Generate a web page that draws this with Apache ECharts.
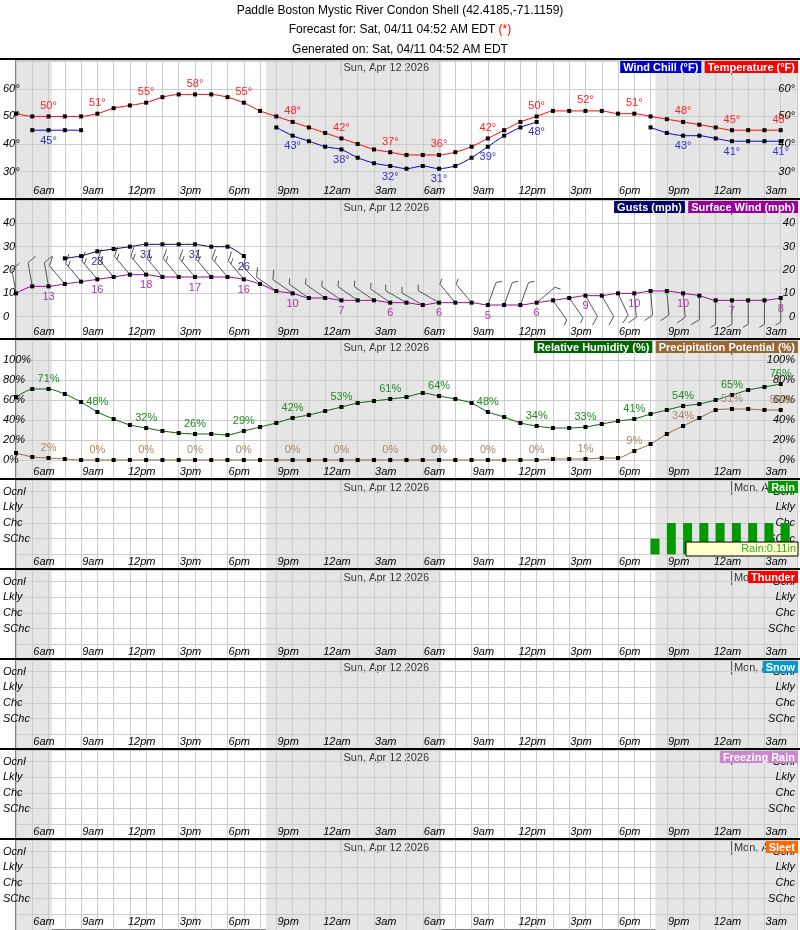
<!DOCTYPE html>
<html>
<head>
<meta charset="utf-8">
<script src="https://cdn.jsdelivr.net/npm/echarts@6/dist/echarts.min.js"></script>
<style>html,body{margin:0;padding:0;background:#fff}#chart{width:800px;height:930px}</style>
</head>
<body>
<div id="chart"></div>
<script>
// hourly, index 0 = 4am Sat Apr 11 ... 48 = 4am Mon Apr 13
var hours = ['4am','5am','6am','7am','8am','9am','10am','11am','12pm','1pm','2pm','3pm','4pm','5pm','6pm','7pm','8pm','9pm','10pm','11pm',
  '12am','1am','2am','3am','4am','5am','6am','7am','8am','9am','10am','11am','12pm','1pm','2pm','3pm','4pm','5pm','6pm','7pm','8pm','9pm','10pm','11pm',
  '12am','1am','2am','3am','4am'];
var temperature = [51,50,50,50,50,51,53,54,55,57,58,58,58,57,55,52,50,48,46,44,42,40,38,37,
  36,36,36,37,39,42,45,48,50,52,52,52,52,51,51,50,49,48,47,46,45,45,45,45];
var windChill = [null,45,45,45,45,null,null,null,null,null,null,null,null,null,null,null,46,43,41,39,38,35,33,32,
  31,32,31,32,35,39,43,46,48,null,null,null,null,null,null,46,44,43,43,42,41,41,41,41];
var gusts = [null,null,null,25,26,28,29,30,31,31,31,31,30,30,26,null,null,null,null,null,null,null,null,null,
  null,null,null,null,null,null,null,null,null,null,null,null,null,null,null,null,null,null,null,null,null,null,null,null];
var wind = [10,13,13,14,15,16,17,18,18,17,17,17,17,17,16,14,11,10,8,8,7,7,7,6,
  6,5,6,6,6,5,5,5,6,7,8,9,9,10,10,11,11,10,9,7,7,7,7,8];
var windDir = [350,350,350,320,320,320,320,320,320,320,320,320,320,320,320,315,305,305,305,305,305,305,305,305,
  300,300,300,320,320,20,20,20,50,145,145,150,150,155,175,175,175,175,180,180,180,180,180,180];
var humidity = [63,71,71,66,58,48,41,35,32,29,27,26,26,25,29,33,37,42,45,49,53,57,59,61,
  63,67,64,61,57,48,43,37,34,32,32,33,36,39,41,46,50,54,56,60,65,70,73,76];
var precipPot = [7,3,2,1,0,0,0,0,0,0,0,0,0,0,0,0,0,0,0,0,0,0,0,0,
  0,0,0,0,0,0,0,0,0,1,1,1,2,2,9,16,26,34,42,50,51,51,50,50];
var rainLevel = [0,0,0,0,0,0,0,0,0,0,0,0,0,0,0,0,0,0,0,0,0,0,0,0,
  0,0,0,0,0,0,0,0,0,0,0,0,0,0,0,1,2,2,2,2,2,2,2,2];
var levelNames = ['', 'SChc', 'Chc', 'Lkly', 'Ocnl'];
var dayNames = ['Sun, Apr 12 2026', 'Mon, Apr 13 2026'];
var dayStarts = [20, 44];
var nights = [[0, 2.2], [15.37, 26.15], [39.3, 48]];

var chart = echarts.init(document.getElementById('chart'));
var FONT = 'Liberation Sans';
var panelTops = [60, 200, 340, 480, 570, 660, 750, 840];
var panelH = [139, 140, 140, 90, 90, 90, 90, 90];
var yRanges = [[20, 70.5, 10], [-10, 50, 10], [-20, 120, 20], [-1, 4.75, 1], [-1, 4.75, 1], [-1, 4.75, 1], [-1, 4.75, 1], [-1, 4.75, 1]];

function fmtY(i, v) {
	if (i === 0) return (v >= 30 && v <= 60) ? v + '°' : '';
	if (i === 1) return (v >= 0 && v <= 40) ? String(v) : '';
	if (i === 2) return (v >= 0 && v <= 100) ? v + '%' : '';
	return levelNames[v] || '';
}

var grids = [], xAxes = [], yAxes = [], series = [];
panelTops.forEach(function (top, i) {
	grids.push({left: 15, right: 2, top: top, height: panelH[i], show: true, borderColor: '#000', borderWidth: 1, backgroundColor: '#fff'});
	xAxes.push({
		type: 'value', gridIndex: i, min: 0, max: 48, interval: 1, z: 3,
		axisLine: {show: false}, axisTick: {show: false},
		splitLine: {show: true, lineStyle: {color: '#ccc'}},
		axisLabel: {
			inside: true, margin: 3, verticalAlign: 'bottom', padding: [0, 9, 0, 0],
			fontFamily: FONT, fontStyle: 'italic', fontSize: 11, color: '#000',
			formatter: function (v) { return (v % 3 === 2) ? hours[v] : ''; }
		}
	});
	[false, true].forEach(function (right) {
		yAxes.push({
			type: 'value', gridIndex: i, position: right ? 'right' : 'left', z: 3,
			min: yRanges[i][0], max: yRanges[i][1], interval: yRanges[i][2],
			axisLine: {show: false}, axisTick: {show: false},
			splitLine: {show: !right, lineStyle: {color: '#ccc'}},
			axisLabel: {
				inside: true, margin: right ? 2 : -13,
				fontFamily: FONT, fontStyle: 'italic', fontSize: 11, color: '#000',
				formatter: function (v) { return fmtY(i, v); }
			}
		});
	});
	// night shading + day marks
	series.push({
		type: 'custom', xAxisIndex: i, yAxisIndex: 2 * i, silent: true, clip: true, z: 1,
		data: dayStarts.map(function (h, k) { return [h, k]; }),
		renderItem: function (params, api) {
			var p = api.coord([api.value(0), 0]);
			var cs = params.coordSys;
			return {type: 'group', children: [
				{type: 'line', shape: {x1: p[0], y1: cs.y + 1, x2: p[0], y2: cs.y + 15}, style: {stroke: '#000', lineWidth: 1}},
				{type: 'text', x: p[0] + 2, y: cs.y + 2, style: {text: dayNames[api.value(1)], fill: '#333', font: '11px ' + FONT}}
			]};
		},
		markArea: {silent: true, itemStyle: {color: '#e5e5e5'},
			data: nights.map(function (n) { return [{xAxis: n[0]}, {xAxis: n[1]}]; })}
	});
});

function pts(arr) {
	return arr.map(function (v, h) {
		return {value: [h, v == null ? '-' : v], label: {show: v != null && h % 3 === 2}};
	});
}
function lineSeries(name, arr, gi, color, labelColor, pos, suffix) {
	return {
		name: name, type: 'line', xAxisIndex: gi, yAxisIndex: 2 * gi, z: 5,
		data: pts(arr), connectNulls: false, smooth: 0.2,
		symbol: 'rect', symbolSize: 4, itemStyle: {color: '#000'},
		lineStyle: {color: color, width: 1},
		label: {position: pos, distance: 3, color: labelColor, fontFamily: FONT, fontSize: 11,
			formatter: function (p) { return p.value[1] + suffix; }},
		emphasis: {disabled: true}
	};
}
series.push(lineSeries('Temperature', temperature, 0, '#ff0000', '#ff2222', 'top', '°'));
series.push(lineSeries('Wind Chill', windChill, 0, '#0000cc', '#3333cc', 'bottom', '°'));
series.push(lineSeries('Gusts', gusts, 1, '#000066', '#333399', 'bottom', ''));
series.push(lineSeries('Surface Wind', wind, 1, '#990099', '#aa33aa', 'bottom', ''));
series.push(lineSeries('Relative Humidity', humidity, 2, '#006600', '#228822', 'top', '%'));
series.push(lineSeries('Precipitation Potential', precipPot, 2, '#996633', '#aa8866', 'top', '%'));

// wind barbs
series.push({
	type: 'custom', xAxisIndex: 1, yAxisIndex: 2, silent: true, z: 4,
	data: wind.map(function (v, h) { return [h, v, windDir[h]]; }),
	renderItem: function (params, api) {
		var p = api.coord([api.value(0), api.value(1)]);
		var d = api.value(2) * Math.PI / 180;
		var ux = Math.sin(d), uy = -Math.cos(d);
		var nx = -uy, ny = ux;
		var L = 24;
		var ex = p[0] + ux * L, ey = p[1] + uy * L;
		var kt = Math.round(api.value(1) * 0.869 / 5) * 5;
		var children = [{type: 'line', shape: {x1: p[0], y1: p[1], x2: ex, y2: ey}, style: {stroke: '#555', lineWidth: 1}}];
		var pos = 0;
		while (kt > 0) {
			var len = kt >= 10 ? 10 : 6;
			var bx = ex - ux * pos, by = ey - uy * pos;
			children.push({type: 'line', shape: {x1: bx, y1: by, x2: bx + (nx * 0.85 + ux * 0.5) * len, y2: by + (ny * 0.85 + uy * 0.5) * len},
				style: {stroke: '#555', lineWidth: 1}});
			kt -= 10; pos += 4;
		}
		return {type: 'group', children: children};
	}
});

// rain bars
series.push({
	type: 'custom', xAxisIndex: 3, yAxisIndex: 6, silent: true, z: 5,
	data: rainLevel.map(function (v, h) { return [h, v]; }),
	renderItem: function (params, api) {
		if (!api.value(1)) return null;
		var a = api.coord([api.value(0), api.value(1)]);
		var b = api.coord([api.value(0) + 0.55, 0]);
		return {type: 'rect', shape: {x: a[0], y: a[1], width: b[0] - a[0], height: b[1] - a[1]}, style: {fill: '#009900'}};
	}
});

function legendBox(top, items) {
	var rich = {}, parts = [];
	items.forEach(function (it, k) {
		rich['b' + k] = {backgroundColor: it[1], fill: '#fff', fontWeight: 'bold', fontFamily: FONT, fontSize: 11, padding: [1, 3, 0, 3], lineHeight: 12};
		parts.push('{b' + k + '|' + it[0] + '}');
	});
	return {type: 'text', right: 2, top: top, z: 100, style: {text: parts.join(' '), rich: rich}};
}

var graphics = [
	{type: 'text', left: 'center', top: 5, style: {text: 'Paddle Boston Mystic River Condon Shell (42.4185,-71.1159)', font: '12px ' + FONT, fill: '#000'}},
	{type: 'text', left: 'center', top: 24, style: {text: 'Forecast for: Sat, 04/11 04:52 AM EDT {r|(*)}', font: '12px ' + FONT, fill: '#000', rich: {r: {fill: '#ff0000', fontSize: 12, fontFamily: FONT}}}},
	{type: 'text', left: 'center', top: 44, style: {text: 'Generated on: Sat, 04/11 04:52 AM EDT', font: '12px ' + FONT, fill: '#000'}},
	legendBox(61, [['Wind Chill (°F)', '#0000cc'], ['Temperature (°F)', '#ff0000']]),
	legendBox(201, [['Gusts (mph)', '#000066'], ['Surface Wind (mph)', '#990099']]),
	legendBox(341, [['Relative Humidity (%)', '#006600'], ['Precipitation Potential (%)', '#996633']]),
	legendBox(481, [['Rain', '#009900']]),
	legendBox(571, [['Thunder', '#ff0000']]),
	legendBox(661, [['Snow', '#0099cc']]),
	legendBox(751, [['Freezing Rain', '#cc88cc']]),
	legendBox(841, [['Sleet', '#ff6600']]),
	{type: 'rect', shape: {x: 686, y: 542, width: 112, height: 14}, z: 100, style: {fill: '#ffffcc', stroke: '#000', lineWidth: 1}},
	{type: 'text', right: 4, top: 543, z: 101, style: {text: 'Rain:0.11in', font: '11px ' + FONT, fill: '#33aa33'}}
];
panelTops.forEach(function (t) {
	graphics.push({type: 'line', z: 90, shape: {x1: 0, y1: t - 1, x2: 800, y2: t - 1}, style: {stroke: '#000', lineWidth: 2}});
});

chart.setOption({
	animation: false,
	backgroundColor: '#fff',
	grid: grids, xAxis: xAxes, yAxis: yAxes,
	series: series,
	graphic: graphics
});
</script>
</body>
</html>
